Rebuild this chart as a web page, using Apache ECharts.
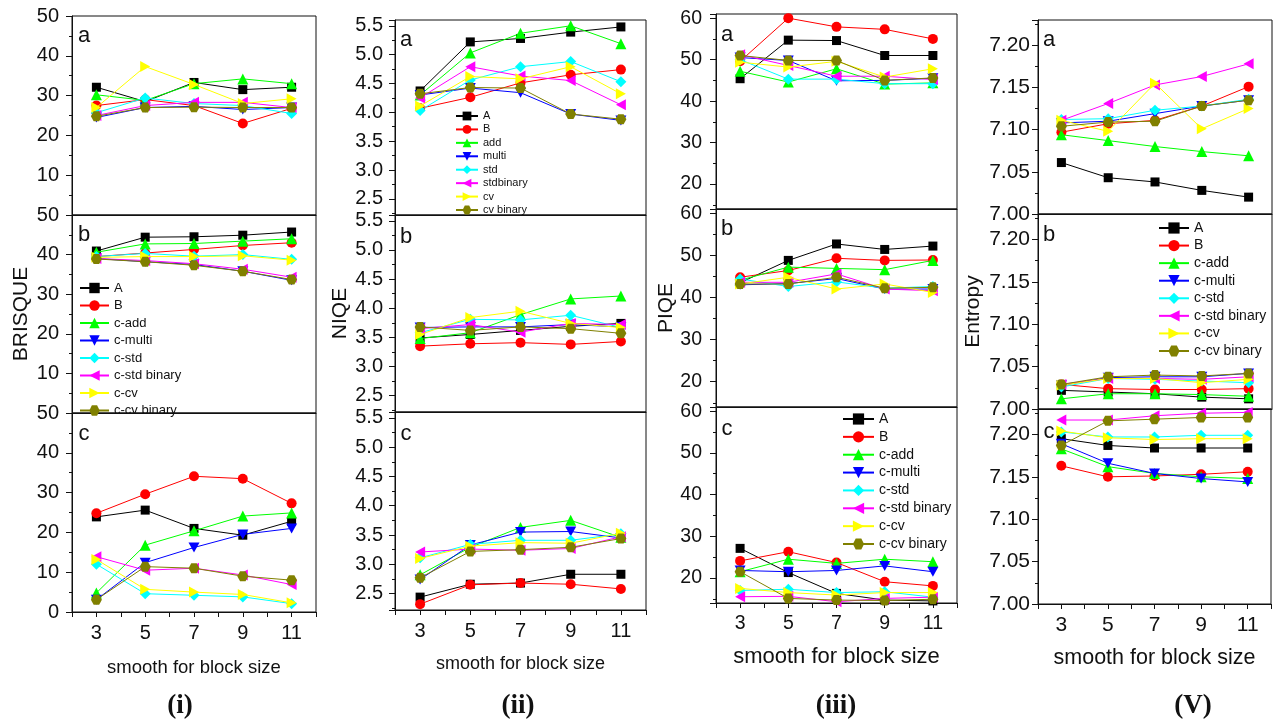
<!DOCTYPE html>
<html><head><meta charset="utf-8">
<script src="https://cdn.jsdelivr.net/npm/echarts@6/dist/echarts.min.js"></script>
<style>html,body{margin:0;padding:0;background:#fff}#c{width:1274px;height:724px}</style>
</head><body><div id="c"></div>
<script>
const blockSizes = [3, 5, 7, 9, 11];
const xTickLabels = [3, 5, 7, 9, 11];
const seriesNames = ['A', 'B', 'c-add', 'c-multi', 'c-std', 'c-std binary', 'c-cv', 'c-cv binary'];
const niqeNames = ['A', 'B', 'add', 'multi', 'std', 'stdbinary', 'cv', 'cv binary'];
const panelLetters = ['a', 'b', 'c'];
const columnCaptions = ['(i)', '(ii)', '(iii)', '(V)'];
const metricNames = ['BRISQUE', 'NIQE', 'PIQE', 'Entropy'];
const xAxisTitle = 'smooth for block size';

// rows: A, B, c-add, c-multi, c-std, c-std binary, c-cv, c-cv binary
const brisqueA = [
  [32.1, 28.5, 33.3, 31.5, 32.1],
  [27.5, 29.0, 27.5, 23.0, 26.8],
  [30.2, 28.8, 33.0, 34.2, 33.0],
  [24.5, 27.0, 27.3, 26.5, 27.0],
  [25.7, 29.4, 28.0, 27.5, 25.5],
  [25.0, 27.5, 28.3, 28.3, 27.0],
  [27.0, 37.3, 32.8, 28.0, 29.2],
  [24.8, 27.0, 27.1, 27.0, 27.0]
];
const brisqueB = [
  [40.9, 44.4, 44.5, 44.9, 45.7],
  [39.5, 40.4, 41.3, 42.3, 43.0],
  [40.6, 42.7, 42.8, 43.4, 44.0],
  [39.0, 38.2, 37.5, 35.8, 33.5],
  [39.5, 40.3, 39.6, 40.0, 38.8],
  [39.0, 38.5, 37.7, 36.3, 34.3],
  [39.3, 39.5, 39.5, 39.7, 38.6],
  [38.9, 38.2, 37.3, 35.8, 33.7]
];
const brisqueC = [
  [23.9, 25.6, 21.0, 19.3, 22.8],
  [24.8, 29.6, 34.1, 33.5, 27.3],
  [4.8, 16.8, 20.4, 24.1, 24.9],
  [3.1, 12.4, 16.2, 19.5, 21.0],
  [12.0, 4.6, 4.2, 3.8, 2.1],
  [13.9, 10.5, 11.0, 9.3, 6.9],
  [13.2, 5.7, 5.0, 4.4, 2.3],
  [3.1, 11.4, 11.0, 9.0, 8.0]
];
const niqeA = [
  [4.37, 5.22, 5.28, 5.39, 5.48],
  [4.07, 4.26, 4.51, 4.65, 4.74],
  [4.30, 5.03, 5.37, 5.50, 5.19],
  [4.30, 4.42, 4.34, 3.97, 3.86],
  [4.03, 4.56, 4.79, 4.88, 4.53],
  [4.25, 4.79, 4.63, 4.55, 4.13],
  [4.11, 4.62, 4.58, 4.79, 4.32],
  [4.32, 4.43, 4.42, 3.97, 3.88]
];
const niqeB = [
  [3.49, 3.55, 3.62, 3.69, 3.74],
  [3.35, 3.39, 3.41, 3.38, 3.43],
  [3.48, 3.58, 3.89, 4.16, 4.21],
  [3.67, 3.68, 3.68, 3.72, 3.68],
  [3.58, 3.81, 3.80, 3.88, 3.67],
  [3.65, 3.72, 3.59, 3.74, 3.72],
  [3.55, 3.84, 3.95, 3.74, 3.67],
  [3.68, 3.62, 3.68, 3.65, 3.57]
];
const niqeC = [
  [2.44, 2.66, 2.68, 2.83, 2.83],
  [2.32, 2.65, 2.68, 2.66, 2.58],
  [2.82, 3.29, 3.63, 3.75, 3.46],
  [2.74, 3.33, 3.55, 3.56, 3.45],
  [3.11, 3.34, 3.41, 3.41, 3.52],
  [3.21, 3.26, 3.24, 3.27, 3.47],
  [3.10, 3.31, 3.37, 3.36, 3.53],
  [2.77, 3.22, 3.25, 3.29, 3.44]
];
const piqeA = [
  [45.4, 54.7, 54.6, 51.0, 51.0],
  [49.6, 60.0, 57.9, 57.3, 55.0],
  [47.2, 44.6, 47.8, 44.1, 44.4],
  [50.5, 49.8, 44.9, 45.0, 45.5],
  [50.0, 45.3, 45.3, 44.2, 44.2],
  [51.2, 48.6, 46.0, 46.0, 45.2],
  [49.4, 48.2, 49.6, 45.8, 47.8],
  [51.0, 49.8, 49.8, 45.0, 45.6]
];
const piqeB = [
  [43.5, 48.8, 52.7, 51.4, 52.2],
  [44.8, 46.4, 49.3, 48.8, 48.9],
  [44.1, 47.2, 46.9, 46.6, 48.8],
  [43.0, 43.3, 44.5, 42.0, 42.0],
  [44.4, 42.6, 43.7, 42.2, 42.6],
  [43.6, 43.6, 45.6, 42.0, 41.6],
  [43.2, 44.8, 42.0, 43.2, 41.2],
  [43.2, 43.2, 44.8, 42.2, 42.4]
];
const piqeC = [
  [27.1, 21.3, 16.3, 14.7, 14.5],
  [24.1, 26.3, 23.7, 19.1, 18.1],
  [21.5, 24.5, 23.5, 24.5, 23.9],
  [21.8, 21.5, 21.8, 22.9, 21.5],
  [17.0, 17.3, 16.5, 16.7, 15.4],
  [15.5, 15.6, 14.3, 15.1, 15.4],
  [17.5, 16.5, 15.9, 16.5, 16.5],
  [21.5, 15.1, 14.7, 14.6, 14.9]
];
const entropyA = [
  [7.061, 7.043, 7.038, 7.028, 7.020],
  [7.097, 7.107, 7.111, 7.128, 7.151],
  [7.094, 7.087, 7.080, 7.074, 7.069],
  [7.108, 7.110, 7.119, 7.128, 7.135],
  [7.112, 7.113, 7.123, 7.128, 7.136],
  [7.111, 7.131, 7.153, 7.163, 7.178],
  [7.111, 7.098, 7.155, 7.101, 7.125],
  [7.104, 7.109, 7.110, 7.128, 7.135]
];
const entropyB = [
  [7.022, 7.020, 7.018, 7.014, 7.012],
  [7.029, 7.024, 7.023, 7.023, 7.024],
  [7.012, 7.018, 7.018, 7.017, 7.015],
  [7.028, 7.037, 7.038, 7.038, 7.042],
  [7.026, 7.036, 7.035, 7.033, 7.031],
  [7.029, 7.036, 7.036, 7.035, 7.038],
  [7.028, 7.036, 7.036, 7.031, 7.035],
  [7.029, 7.038, 7.040, 7.039, 7.042]
];
const entropyC = [
  [7.195, 7.187, 7.184, 7.184, 7.184],
  [7.163, 7.150, 7.151, 7.153, 7.156],
  [7.183, 7.162, 7.154, 7.150, 7.148],
  [7.189, 7.166, 7.154, 7.148, 7.144],
  [7.203, 7.197, 7.197, 7.199, 7.199],
  [7.217, 7.217, 7.222, 7.225, 7.226],
  [7.204, 7.196, 7.194, 7.195, 7.195],
  [7.187, 7.216, 7.218, 7.220, 7.220]
];

const panelData = [
  [brisqueA, brisqueB, brisqueC],
  [niqeA, niqeB, niqeC],
  [piqeA, piqeB, piqeC],
  [entropyA, entropyB, entropyC]
];

// ---------- styling / layout ----------
const FONT = 'Liberation Sans, Arial, sans-serif';
const colors = ['#000000', '#ff0000', '#00ff00', '#0000ff', '#00ffff', '#ff00ff', '#ffff00', '#808000'];
const symbols = ['rect', 'circle', 'triangle', 'path://M0,0L10,0L5,9Z', 'diamond',
  'path://M9,0L9,10L0,5Z', 'path://M0,0L0,10L9,5Z',
  'path://M2.5,0L7.5,0L10,4.33L7.5,8.66L2.5,8.66L0,4.33Z'];
const symbolSizes = [9, 10, 11, [11, 10], 11, [10, 11], [10, 11], [11, 10]];

const cols = [
  { x0: 72, x1: 316, panels: [[16, 215], [215, 413], [413, 612]], min: 0, max: 50, yMargin: 13,
    fmt: v => String(v), showMin: [false, false, true], showMax: true, tickFont: 20, nameGap: 40, xNameGap: 46, xNameFont: 18.5,
    letters: [[84, 36], [84, 235], [84, 434]], caption: [180, 706],
    legend: { left: 79, top: 281.5, w: 29, h: 13, gap: 4.5, font: 13 } },
  { x0: 395, x1: 646, panels: [[20, 215], [215, 412], [412, 610]], min: 2.22, max: 5.6, yMargin: 12,
    fmt: v => v.toFixed(1), showMin: [false, false, false], showMax: false, tickFont: 20, nameGap: 44, xNameGap: 45, xNameFont: 18,
    letters: [[406, 40], [406, 237], [406, 434]], caption: [518, 706],
    legend: { left: 455, top: 110.5, w: 22, h: 11, gap: 2.43, font: 11 } },
  { x0: 716, x1: 957, panels: [[14, 209], [209, 407], [407, 603]], min: 14, max: 61, yMargin: 14,
    fmt: v => String(v), showMin: [false, false, false], showMax: false, tickFont: 19.5, nameGap: 39, xNameGap: 43, xNameFont: 22,
    letters: [[727, 35], [727, 229], [727, 429]], caption: [836, 706],
    legend: { left: 842, top: 412, w: 31, h: 14, gap: 3.86, font: 14 } },
  { x0: 1038, x1: 1272, panels: [[20, 214], [214, 409], [409, 604]], min: 7.0, max: 7.23, yMargin: 8,
    fmt: v => v.toFixed(2), showMin: [true, true, true], showMax: false, tickFont: 21, nameGap: 54, xNameGap: 43, xNameFont: 21.5,
    letters: [[1049, 40], [1049, 235], [1049, 432]], caption: [1193, 706],
    legend: { left: 1158, top: 221, w: 30, h: 14, gap: 3.57, font: 14 } }
];

const grid = [], xAxis = [], yAxis = [], series = [], legend = [], graphic = [];

cols.forEach((c, ci) => {
  const names = ci === 1 ? niqeNames : seriesNames;
  c.panels.forEach((p, pi) => {
    const idx = grid.length;
    const isBottom = pi === 2;
    grid.push({ left: c.x0, top: p[0], width: c.x1 - c.x0, height: p[1] - p[0],
      show: true, borderColor: '#111', borderWidth: 1, backgroundColor: 'transparent' });
    xAxis.push({
      gridIndex: idx, type: 'value', min: 2, max: 12, interval: 1,
      axisLine: { show: true, onZero: false, lineStyle: { color: '#111', width: 1 } },
      axisTick: { show: isBottom, inside: false, length: 5, lineStyle: { color: '#111' } },
      axisLabel: { show: isBottom, margin: 11, fontSize: c.tickFont, fontFamily: FONT, color: '#111',
        formatter: v => (xTickLabels.indexOf(v) >= 0 ? String(v) : '') },
      splitLine: { show: false },
      name: isBottom ? xAxisTitle : '', nameLocation: 'middle', nameGap: c.xNameGap,
      nameTextStyle: { fontSize: c.xNameFont, fontFamily: FONT, color: '#111' }
    });
    yAxis.push({
      gridIndex: idx, type: 'value', min: c.min, max: c.max, splitNumber: 5,
      axisLine: { show: true, lineStyle: { color: '#111', width: 1 } },
      axisTick: { show: true, inside: false, length: 6, lineStyle: { color: '#111' } },
      minorTick: { show: true, splitNumber: 2, length: 3, lineStyle: { color: '#111' } },
      axisLabel: { margin: c.yMargin, fontSize: c.tickFont, fontFamily: FONT, color: '#111',
        showMinLabel: c.showMin[pi], showMaxLabel: c.showMax, formatter: c.fmt },
      splitLine: { show: false },
      name: pi === 1 ? metricNames[ci] : '', nameLocation: 'middle', nameRotate: 90, nameGap: c.nameGap,
      nameTextStyle: { fontSize: 21, fontFamily: FONT, color: '#111' }
    });
    const rows = panelData[ci][pi];
    rows.forEach((vals, si) => {
      series.push({
        type: 'line', name: names[si], xAxisIndex: idx, yAxisIndex: idx,
        data: blockSizes.map((x, k) => [x, vals[k]]),
        symbol: symbols[si], symbolSize: symbolSizes[si],
        lineStyle: { color: colors[si], width: 1 },
        itemStyle: { color: colors[si] },
        emphasis: { disabled: true }, silent: true, z: 2 + si
      });
    });
    graphic.push({ type: 'text', x: c.letters[pi][0], y: c.letters[pi][1],
      style: { text: panelLetters[pi], font: '22px ' + FONT, fill: '#111', textAlign: 'center', textVerticalAlign: 'middle' } });
  });
  legend.push({
    data: names, orient: 'vertical', left: c.legend.left, top: c.legend.top,
    itemWidth: c.legend.w, itemHeight: c.legend.h, itemGap: c.legend.gap, padding: 0,
    selectedMode: false,
    textStyle: { fontSize: c.legend.font, fontFamily: FONT, color: '#111', lineHeight: c.legend.h }
  });
  graphic.push({ type: 'text', x: c.caption[0], y: c.caption[1],
    style: { text: columnCaptions[ci], font: 'bold 27px Liberation Serif, Times New Roman, serif', fill: '#111',
      textAlign: 'center', textVerticalAlign: 'middle' } });
});

const chart = echarts.init(document.getElementById('c'), null, { renderer: 'canvas' });
chart.setOption({ animation: false, backgroundColor: '#fff', grid, xAxis, yAxis, series, legend, graphic });
</script>
</body></html>
